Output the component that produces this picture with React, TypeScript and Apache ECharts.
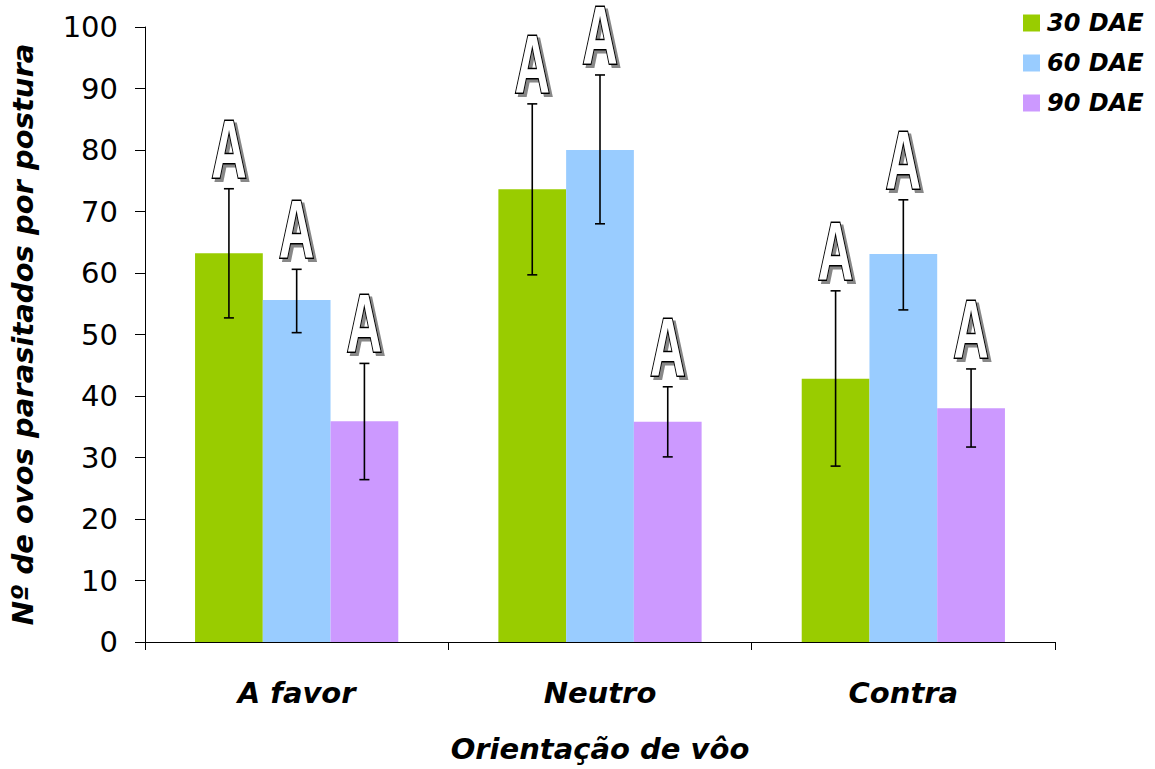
import React, { useEffect, useRef } from "react";
import * as echarts from "echarts";

const categories = ["A favor", "Neutro", "Contra"];
const seriesNames = ["30 DAE", "60 DAE", "90 DAE"];
const colors = ["#99CC00", "#99CCFF", "#CC99FF"];
const means = [
  [63.2, 73.6, 42.8],
  [55.6, 80.0, 63.1],
  [35.9, 35.8, 38.0],
];
const upper = [
  [73.7, 87.5, 57.1],
  [60.6, 92.2, 71.9],
  [45.3, 41.5, 44.4],
];
const lower = [
  [52.7, 59.7, 28.6],
  [50.3, 68.0, 54.0],
  [26.4, 30.1, 31.7],
];
const letters = [
  ["A", "A", "A"],
  ["A", "A", "A"],
  ["A", "A", "A"],
];
const yTicks = { min: 0, max: 100, interval: 10 };

const FONT = "'DejaVu Sans', sans-serif";
const LETTER_FONT = "'Liberation Sans', Arial, sans-serif";
const CAT_GAP = 0.33;

export default function App() {
  const ref = useRef<HTMLDivElement>(null);
  useEffect(() => {
    if (!ref.current) return;
    const chart = echarts.init(ref.current, null, { renderer: "svg" });
    const nS = seriesNames.length;
    const barSeries = seriesNames.map((name, s) => ({
      name,
      type: "bar",
      data: means[s],
      itemStyle: { color: colors[s] },
      barGap: "0%",
      barCategoryGap: CAT_GAP * 100 + "%",
      z: 2,
    }));
    const errSeries = seriesNames.map((name, s) => ({
      type: "custom",
      name: "err" + s,
      z: 5,
      silent: true,
      data: categories.map((c, i) => [i, lower[s][i], upper[s][i], letters[s][i]]),
      renderItem: (params: any, api: any) => {
        const cat = api.value(0);
        const hi = api.coord([cat, api.value(2)]);
        const lo = api.coord([cat, api.value(1)]);
        const catW = api.size([1, 0])[0];
        const barW = (catW * (1 - CAT_GAP)) / nS;
        const x = hi[0] + (s - (nS - 1) / 2) * barW;
        const cap = 5;
        const ls = { stroke: "#000", lineWidth: 1.6 };
        const letter = letters[s][cat];
        const ly = hi[1] - 40;
        const txtStyle = {
          text: letter,
          fontSize: 81,
          lineHeight: 62,
          fontFamily: LETTER_FONT,
          fontWeight: "bold",
          align: "center",
          verticalAlign: "middle",
        };
        return {
          type: "group",
          children: [
            { type: "line", shape: { x1: x, y1: hi[1], x2: x, y2: lo[1] }, style: ls },
            { type: "line", shape: { x1: x - cap, y1: hi[1], x2: x + cap, y2: hi[1] }, style: ls },
            { type: "line", shape: { x1: x - cap, y1: lo[1], x2: x + cap, y2: lo[1] }, style: ls },
            {
              type: "group",
              x: x,
              y: ly,
              scaleX: 0.6,
              scaleY: 1,
              children: [
                {
                  type: "text",
                  x: 5,
                  y: 3,
                  style: { ...txtStyle, fill: "#888", stroke: "#888", lineWidth: 3 },
                },
                {
                  type: "text",
                  x: 0,
                  y: 0,
                  style: { ...txtStyle, fill: "#fff", stroke: "#000", lineWidth: 3 },
                },
              ],
            },
          ],
        };
      },
    }));
    chart.setOption({
      animation: false,
      backgroundColor: "#fff",
      grid: { left: 145, right: 100, top: 27, bottom: 127 },
      legend: {
        data: seriesNames.map((n) => ({ name: n, icon: "rect" })),
        orient: "vertical",
        left: 1018,
        top: 6,
        itemWidth: 17,
        itemHeight: 17,
        itemGap: 16,
        textStyle: {
          fontSize: 24,
          fontWeight: "bold",
          fontStyle: "italic",
          fontFamily: FONT,
          color: "#000",
          padding: [0, 0, 0, 2],
        },
      },
      xAxis: {
        type: "category",
        data: categories,
        name: "Orientação de vôo",
        nameLocation: "middle",
        nameGap: 92,
        nameTextStyle: {
          fontSize: 29,
          fontWeight: "bold",
          fontStyle: "italic",
          fontFamily: FONT,
          color: "#000",
        },
        axisLine: { lineStyle: { color: "#000", width: 1 } },
        axisTick: { show: true, length: 8, lineStyle: { color: "#000" } },
        axisLabel: {
          interval: 0,
          margin: 36,
          fontSize: 29,
          fontWeight: "bold",
          fontStyle: "italic",
          fontFamily: FONT,
          color: "#000",
        },
      },
      yAxis: {
        type: "value",
        min: yTicks.min,
        max: yTicks.max,
        interval: yTicks.interval,
        name: "Nº de ovos parasitados por postura",
        nameLocation: "middle",
        nameGap: 108,
        nameTextStyle: {
          fontSize: 29,
          fontWeight: "bold",
          fontStyle: "italic",
          fontFamily: FONT,
          color: "#000",
        },
        axisLine: { show: true, lineStyle: { color: "#000", width: 1 } },
        axisTick: { show: true, length: 10, lineStyle: { color: "#000" } },
        splitLine: { show: false },
        axisLabel: {
          margin: 27,
          fontSize: 29,
          fontFamily: FONT,
          color: "#000",
        },
      },
      series: [...barSeries, ...errSeries],
    });
    return () => chart.dispose();
  }, []);
  return <div ref={ref} style={{ width: 1155, height: 769, position: "absolute", left: 0, top: 0 }} />;
}
